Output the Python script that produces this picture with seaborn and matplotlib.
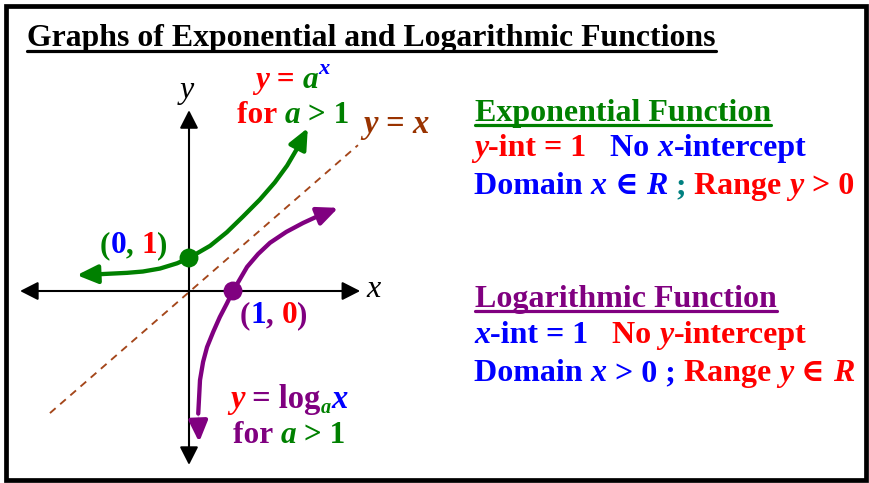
import matplotlib
matplotlib.use("Agg")
import matplotlib.pyplot as plt
import seaborn as sns
import pandas as pd
from matplotlib.patches import Rectangle
from matplotlib.lines import Line2D

# ---------------- data (graph units) ----------------
exp_x = [-2.55, -2.02, -1.41, -1.05, -0.66, -0.27, 0.0, 0.48, 0.86, 1.23, 1.61, 1.95, 2.23, 2.45, 2.70]
exp_y = [0.48, 0.51, 0.55, 0.59, 0.68, 0.84, 1.0, 1.37, 1.78, 2.26, 2.77, 3.29, 3.80, 4.30, 4.94]

log_x = [0.23, 0.21, 0.21, 0.25, 0.32, 0.41, 0.55, 0.70, 0.86, 1.0, 1.32, 1.57, 1.84, 2.21, 2.59, 2.98, 3.39]
log_y = [-4.58, -3.91, -3.52, -2.70, -2.15, -1.70, -1.24, -0.79, -0.38, 0.0, 0.73, 1.12, 1.46, 1.79, 2.06, 2.30, 2.52]

ident_x = [-3.16, 3.84]
ident_y = [-3.70, 4.42]

xaxis_x = [-3.84, 3.89]
yaxis_y = [-5.27, 5.48]

key_x = [0, 1]
key_y = [1, 0]
key_names = ["exp", "log"]

title_text = "Graphs of Exponential and Logarithmic Functions"

# ---------------- colours ----------------
RED = "#ff0000"
BLUE = "#0000ff"
GREEN = "#008000"
PURPLE = "#800080"
BROWN = "#993300"
TEAL = "#008080"
DASH = "#a4461a"

W, H = 869, 483
sns.set_style("white")
plt.rcParams["font.family"] = ["Liberation Serif", "DejaVu Serif"]

fig = plt.figure(figsize=(W / 100, H / 100), dpi=100)
ax = fig.add_axes([0, 0, 1, 1])
XL = (-189 / 44, (W - 189) / 44)
YL = ((291 - H) / 33, 291 / 33)

renderer = fig.canvas.get_renderer()

# frame
fig.patches.append(Rectangle((6 / W, 1 - 480 / H), (866 - 6) / W, (480 - 6) / H,
                             transform=fig.transFigure, fill=False,
                             edgecolor="black", linewidth=3.4, zorder=0))

# axes with arrows
axis_style = "<|-|>,head_length=11,head_width=5.6"
ax.annotate("", xy=(xaxis_x[1], 0), xytext=(xaxis_x[0], 0),
            arrowprops=dict(arrowstyle=axis_style, color="black", lw=1.5,
                            shrinkA=0, shrinkB=0, mutation_scale=1))
ax.annotate("", xy=(0, yaxis_y[1]), xytext=(0, yaxis_y[0]),
            arrowprops=dict(arrowstyle=axis_style, color="black", lw=1.5,
                            shrinkA=0, shrinkB=0, mutation_scale=1))

# identity line
sns.lineplot(x=ident_x, y=ident_y, ax=ax, color=DASH, lw=1.35,
             linestyle=(0, (4, 3.2)), zorder=2)

# curves
exp_df = pd.DataFrame({"x": exp_x[1:-1], "y": exp_y[1:-1]})
log_df = pd.DataFrame({"x": log_x[1:-1], "y": log_y[1:-1]})
sns.lineplot(data=exp_df, x="x", y="y", ax=ax, sort=False, color=GREEN, lw=3.1,
             zorder=3, solid_capstyle="round", solid_joinstyle="round")
sns.lineplot(data=log_df, x="x", y="y", ax=ax, sort=False, color=PURPLE, lw=3.1,
             zorder=3, solid_capstyle="round", solid_joinstyle="round")

head = "-|>,head_length=12.5,head_width=5.6"
for xs, ys, c in [(exp_x, exp_y, GREEN), (log_x, log_y, PURPLE)]:
    for a, b in [(1, 0), (-2, -1)]:
        ax.annotate("", xy=(xs[b], ys[b]), xytext=(xs[a], ys[a]),
                    arrowprops=dict(arrowstyle=head, color=c, lw=3.1,
                                    shrinkA=0, shrinkB=0, mutation_scale=1),
                    zorder=3)

key_df = pd.DataFrame({"x": key_x, "y": key_y, "k": key_names})
sns.scatterplot(data=key_df, x="x", y="y", hue="k", palette=[GREEN, PURPLE],
                s=185, ax=ax, legend=False, zorder=4, linewidth=0)
ax.set_xlim(*XL)
ax.set_ylim(*YL)
ax.axis("off")


# ---------------- rich text helper ----------------
def _adv(s, kw):
    t1 = fig.text(0, 0, s + "|", **kw)
    w1 = t1.get_window_extent(renderer).width
    t1.remove()
    t2 = fig.text(0, 0, "|", **kw)
    w2 = t2.get_window_extent(renderer).width
    t2.remove()
    return w1 - w2


def rich(x, y, segs, size=23, weight="bold"):
    """x, y in pixels from top-left, y = baseline."""
    for seg in segs:
        text, color = seg[0], seg[1]
        italic = seg[2] if len(seg) > 2 else False
        scale = seg[3] if len(seg) > 3 else 1.0
        rise = seg[4] if len(seg) > 4 else 0
        kw = dict(fontsize=size * scale, fontweight=weight,
                  fontstyle="italic" if italic else "normal",
                  family=["Liberation Serif", "DejaVu Serif"], color=color)
        fig.text(x / W, 1 - (y - rise) / H, text, ha="left", va="baseline", **kw)
        x += _adv(text, kw)
    return x


def underline(x0, x1, y, color, lw):
    fig.add_artist(Line2D([x0 / W, x1 / W], [1 - y / H, 1 - y / H],
                          transform=fig.transFigure, color=color, lw=lw))


# title
x_end = rich(27, 46, [(title_text, "black")], size=22.9)
underline(27, x_end, 51, "black", 2.3)

# axis labels
rich(180, 98, [("y", "black", True)], size=23, weight="normal")
rich(366, 297, [("x", "black", True)], size=23, weight="normal")

# labels near graph
rich(255, 88, [("y", RED, True), (" = ", RED), ("a", GREEN, True), ("x", BLUE, True, 0.72, 14)], size=22.5)
rich(237, 123, [("for ", RED), ("a", GREEN, True), (" > 1", GREEN)], size=22.5)
rich(363, 133, [("y", BROWN, True), (" = ", BROWN), ("x", BROWN, True)], size=23.5)
rich(100, 253, [("(", GREEN), ("0", BLUE), (", ", GREEN), ("1", RED), (")", GREEN)], size=22.5)
rich(240, 323, [("(", PURPLE), ("1", BLUE), (", ", PURPLE), ("0", RED), (")", PURPLE)], size=22.5)
rich(230, 408, [("y", RED, True), (" = log", PURPLE), ("a", GREEN, True, 0.62, -5),
                ("x", BLUE, True)], size=23.5)
rich(233, 443, [("for ", PURPLE), ("a", GREEN, True), (" > 1", GREEN)], size=22.5)

# right-hand text block
x_end = rich(475, 121, [("Exponential Function", GREEN)])
underline(475, x_end, 125, GREEN, 2.3)
rich(474, 156, [("y", RED, True), ("-int = 1", RED), ("   No ", BLUE), ("x", BLUE, True),
                ("-intercept", BLUE)])
rich(474, 194, [("Domain ", BLUE), ("x", BLUE, True), (" \u2208 ", BLUE), ("R", BLUE, True),
                (" ; ", TEAL), ("Range ", RED), ("y", RED, True), (" > 0", RED)])

x_end = rich(475, 307, [("Logarithmic Function", PURPLE)])
underline(475, x_end, 311, PURPLE, 2.3)
rich(474, 343, [("x", BLUE, True), ("-int = 1", BLUE), ("   No ", RED), ("y", RED, True),
                ("-intercept", RED)])
rich(474, 381, [("Domain ", BLUE), ("x", BLUE, True), (" > 0 ; ", BLUE), ("Range ", RED),
                ("y", RED, True), (" \u2208 ", RED), ("R", RED, True)])

fig.savefig("out.png", dpi=100)
